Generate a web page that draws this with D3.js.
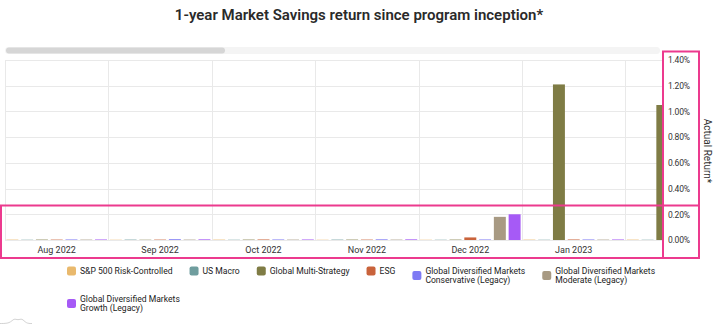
<!DOCTYPE html>
<html>
<head>
<meta charset="utf-8">
<script src="https://cdn.jsdelivr.net/npm/d3@7"></script>
<style>
  html, body { margin: 0; padding: 0; background: #fff; }
  svg { display: block; font-family: Roboto, "Noto Sans", Arial, sans-serif; }
</style>
</head>
<body>
<svg id="chart" width="720" height="326"></svg>
<script>
// ---------------- DATA ----------------
const months = ["Aug 2022", "Sep 2022", "Oct 2022", "Nov 2022", "Dec 2022", "Jan 2023", "Feb 2023"];
const seriesNames = [
  "S&P 500 Risk-Controlled",
  "US Macro",
  "Global Multi-Strategy",
  "ESG",
  "Global Diversified Markets Conservative (Legacy)",
  "Global Diversified Markets Moderate (Legacy)",
  "Global Diversified Markets Growth (Legacy)"
];
// returns in percent, one array per series (by month)
const sp500RiskControlled   = [0.003, 0.002, 0.003, 0.002, 0.002, 0.003, 0.003];
const usMacro               = [0.002, 0.003, 0.002, 0.003, 0.002, 0.002, 0.002];
const globalMultiStrategy   = [0.003, 0.002, 0.003, 0.003, 0.003, 1.21, 1.05];
const esg                   = [0.003, 0.003, 0.004, 0.003, 0.02, 0.004, 0.003];
const gdmConservative       = [0.004, 0.006, 0.004, 0.005, 0.004, 0.004, 0.004];
const gdmModerate           = [0.003, 0.003, 0.003, 0.003, 0.18, 0.003, 0.003];
const gdmGrowth             = [0.004, 0.005, 0.004, 0.005, 0.20, 0.004, 0.004];
const yTicks = [0, 0.2, 0.4, 0.6, 0.8, 1.0, 1.2, 1.4];
const seriesColors = ["#E9B96D", "#6F9D9E", "#7F7C45", "#C9633B", "#7E7AF4", "#A89A83", "#A65AF6"];

const seriesValues = [sp500RiskControlled, usMacro, globalMultiStrategy, esg, gdmConservative, gdmModerate, gdmGrowth];

// ---------------- LAYOUT ----------------
const plotLeft = 5, plotRight = 662, plotTop = 60, plotBottom = 240;
const monthWidth = 103.4;

const svg = d3.select("#chart");
const defs = svg.append("defs");

// Title
svg.append("text")
  .attr("x", 359).attr("y", 20)
  .attr("text-anchor", "middle")
  .attr("font-size", 15).attr("font-weight", 600)
  .attr("fill", "#2a2a2a")
  .text("1-year Market Savings return since program inception*");

// Scrollbar
svg.append("rect").attr("x", plotLeft).attr("y", 47).attr("width", plotRight - plotLeft - 2).attr("height", 7)
  .attr("rx", 3.5).attr("fill", "#f4f4f4");
svg.append("rect").attr("x", 6).attr("y", 47.5).attr("width", 219).attr("height", 6)
  .attr("rx", 3).attr("fill", "#d6d6d6");

// Scales
const x = d3.scaleBand().domain(months).range([plotLeft, plotLeft + monthWidth * months.length]).padding(0);
const xInner = d3.scaleBand().domain(d3.range(seriesNames.length)).range([0, x.bandwidth()])
  .paddingInner(0.19).paddingOuter(0.095);
const y = d3.scaleLinear().domain([0, 1.4]).range([plotBottom, plotTop]);

// Clips
defs.append("clipPath").attr("id", "plotclip")
  .append("rect").attr("x", plotLeft).attr("y", 0).attr("width", plotRight - plotLeft).attr("height", plotBottom + 1);
defs.append("clipPath").attr("id", "xclip")
  .append("rect").attr("x", 0).attr("y", -20).attr("width", 655).attr("height", 30);

const plot = svg.append("g").attr("clip-path", "url(#plotclip)");

// Horizontal gridlines
plot.append("g").selectAll("line").data(yTicks).join("line")
  .attr("x1", plotLeft).attr("x2", plotRight)
  .attr("y1", d => Math.round(y(d)) + 0.5).attr("y2", d => Math.round(y(d)) + 0.5)
  .attr("stroke", "#e9e9e9").attr("stroke-width", 1);

// Vertical gridlines at month boundaries
plot.append("g").selectAll("line").data(months).join("line")
  .attr("x1", d => Math.round(x(d)) + 0.5).attr("x2", d => Math.round(x(d)) + 0.5)
  .attr("y1", plotTop).attr("y2", plotBottom)
  .attr("stroke", "#e9e9e9").attr("stroke-width", 1);

// Bars
const groups = plot.append("g").selectAll("g").data(months).join("g")
  .attr("transform", d => `translate(${x(d)},0)`);
groups.selectAll("rect")
  .data((m, mi) => seriesValues.map((vals, si) => ({ si, v: vals[mi] })))
  .join("rect")
  .attr("x", d => xInner(d.si))
  .attr("width", xInner.bandwidth())
  .attr("y", d => y(d.v))
  .attr("height", d => y(0) - y(d.v))
  .attr("fill", d => seriesColors[d.si]);

// X axis labels
const xAxis = d3.axisBottom(x).tickSize(0).tickPadding(0);
const xg = svg.append("g").attr("clip-path", "url(#xclip)")
  .attr("transform", `translate(0,${plotBottom + 13})`).call(xAxis);
xg.select(".domain").remove();
xg.selectAll("text").attr("dy", 0).attr("font-size", 9).attr("fill", "#333")
  .attr("font-family", "Roboto, sans-serif");

// Y axis (right)
const yAxis = d3.axisRight(y).tickValues(yTicks).tickSize(0).tickPadding(0)
  .tickFormat(d => d3.format(".2f")(d) + "%");
const yg = svg.append("g").attr("transform", `translate(668,0)`).call(yAxis);
yg.select(".domain").remove();
yg.selectAll("text").attr("font-size", 8.5).attr("fill", "#333").attr("letter-spacing", -0.2)
  .attr("font-family", "Roboto, sans-serif");

// Y axis title
svg.append("text")
  .attr("transform", "translate(704,151) rotate(90)")
  .attr("text-anchor", "middle")
  .attr("font-size", 10).attr("fill", "#333")
  .text("Actual Return*");

// Highlight frames
svg.append("rect").attr("x", 663).attr("y", 51.5).attr("width", 36).attr("height", 206.5)
  .attr("fill", "none").attr("stroke", "#EC3A8E").attr("stroke-width", 2);
svg.append("rect").attr("x", 1).attr("y", 205.5).attr("width", 698).attr("height", 52.5)
  .attr("fill", "none").attr("stroke", "#EC3A8E").attr("stroke-width", 2);

// Legend (flow layout)
const legend = svg.append("g").attr("font-size", 8.6).attr("fill", "#222");
const legendStartX = 67, legendMaxX = 700, legendGap = 17, lineH = 9, rowH = 28, maxLabelW = 104;
const row1Center = 271;
let lx = legendStartX, rowIdx = 0;
seriesNames.forEach((name, i) => {
  const g = legend.append("g");
  const t = g.append("text");
  const words = name.split(" ");
  const lines = [];
  let cur = "";
  const probe = legend.append("text").attr("visibility", "hidden");
  words.forEach(w => {
    const test = cur ? cur + " " + w : w;
    probe.text(test);
    if (probe.node().getComputedTextLength() > maxLabelW && cur) { lines.push(cur); cur = w; }
    else cur = test;
  });
  lines.push(cur);
  probe.remove();
  lines.forEach((ln, li) => {
    t.append("tspan").attr("x", 13).attr("y", li * lineH + 3.1).text(ln);
  });
  const textW = d3.max(t.selectAll("tspan").nodes(), n => n.getComputedTextLength());
  const itemW = 13 + textW;
  if (lx + itemW > legendMaxX && lx > legendStartX) { rowIdx++; lx = legendStartX; }
  const cy = row1Center + rowIdx * rowH;
  const blockCenter = (lines.length - 1) * lineH / 2;
  g.attr("transform", `translate(${lx},${cy})`);
  g.insert("rect", "text")
    .attr("x", 0).attr("y", blockCenter - 4.5).attr("width", 9).attr("height", 9)
    .attr("rx", 2).attr("fill", seriesColors[i]);
  lx += itemW + legendGap;
});

// small decorative mark bottom-left
svg.append("path")
  .attr("d", d3.line().curve(d3.curveBasis)([[0, 323.5], [10, 323.5], [14, 318], [18, 320.5], [22, 318], [26, 323.5], [32, 323.5]]))
  .attr("fill", "none").attr("stroke", "#c8c8c8").attr("stroke-width", 0.8);
</script>
</body>
</html>
